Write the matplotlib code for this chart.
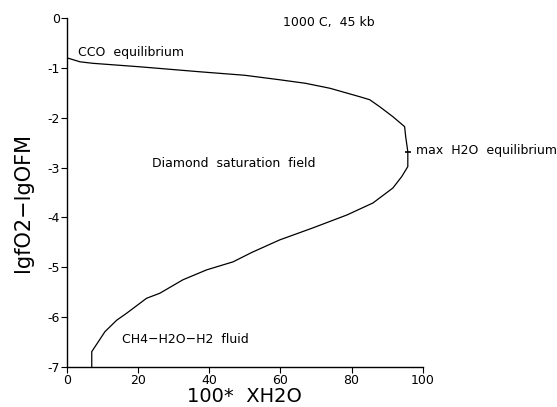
import matplotlib
matplotlib.use("Agg")
import matplotlib.pyplot as plt

# boundary of the diamond saturation field
xh2o = [0, 3.7, 7.3, 20.5, 37.4, 50.0, 59.8, 67.0, 73.9, 82.3, 85.1, 87.9,
        91.6, 94.9, 95.2, 95.8, 95.8, 95.8, 94.1, 91.6, 86.0, 78.7, 69.1,
        59.8, 52.0, 46.7, 39.3, 32.6, 26.1, 22.4, 16.8, 14.0, 10.7, 7.0, 7.0]
dfo2 = [-0.80, -0.88, -0.91, -0.98, -1.08, -1.15, -1.24, -1.31, -1.41, -1.58,
        -1.64, -1.78, -1.98, -2.18, -2.38, -2.68, -2.95, -2.98, -3.18, -3.41,
        -3.71, -3.95, -4.21, -4.45, -4.70, -4.89, -5.05, -5.25, -5.52, -5.62,
        -5.92, -6.06, -6.29, -6.69, -7.0]
max_h2o = (95.8, -2.68)

xticks = [0, 20, 40, 60, 80, 100]
yticks = [0, -1, -2, -3, -4, -5, -6, -7]

plt.rcParams["axes.unicode_minus"] = False
plt.rcParams["font.family"] = "DejaVu Sans"

fig = plt.figure(figsize=(5.57, 4.07), dpi=100)
ax = fig.add_axes([0.120, 0.098, 0.639, 0.858])

ax.plot(xh2o, dfo2, color="black", lw=0.9)
ax.plot([max_h2o[0]], [max_h2o[1]], marker="_", color="black", ms=5, mew=1.2)

ax.set_xlim(0, 100)
ax.set_ylim(-7, 0)
ax.set_xticks(xticks)
ax.set_yticks(yticks)
ax.tick_params(direction="out", length=4, width=0.8, labelsize=9, pad=1)
for s in ["top", "right"]:
    ax.spines[s].set_visible(False)
for s in ["left", "bottom"]:
    ax.spines[s].set_linewidth(1.0)

ax.set_xlabel("100*  XH2O", fontsize=14, labelpad=0)
ax.set_ylabel("lgfO2\u2212lgOFM", fontsize=15)
ax.yaxis.set_label_coords(-0.095, 0.47)

ax.text(60.7, -0.1, "1000 C,  45 kb", fontsize=9, va="center")
ax.text(3.1, -0.70, "CCO  equilibrium", fontsize=9, va="center")
ax.text(23.9, -2.91, "Diamond  saturation  field", fontsize=9, va="center")
ax.text(98.0, -2.65, "max  H2O  equilibrium", fontsize=9, va="center",
        clip_on=False)
ax.text(15.4, -6.44, "CH4\u2212H2O\u2212H2  fluid", fontsize=9, va="center")

fig.savefig("out.png", dpi=100)
